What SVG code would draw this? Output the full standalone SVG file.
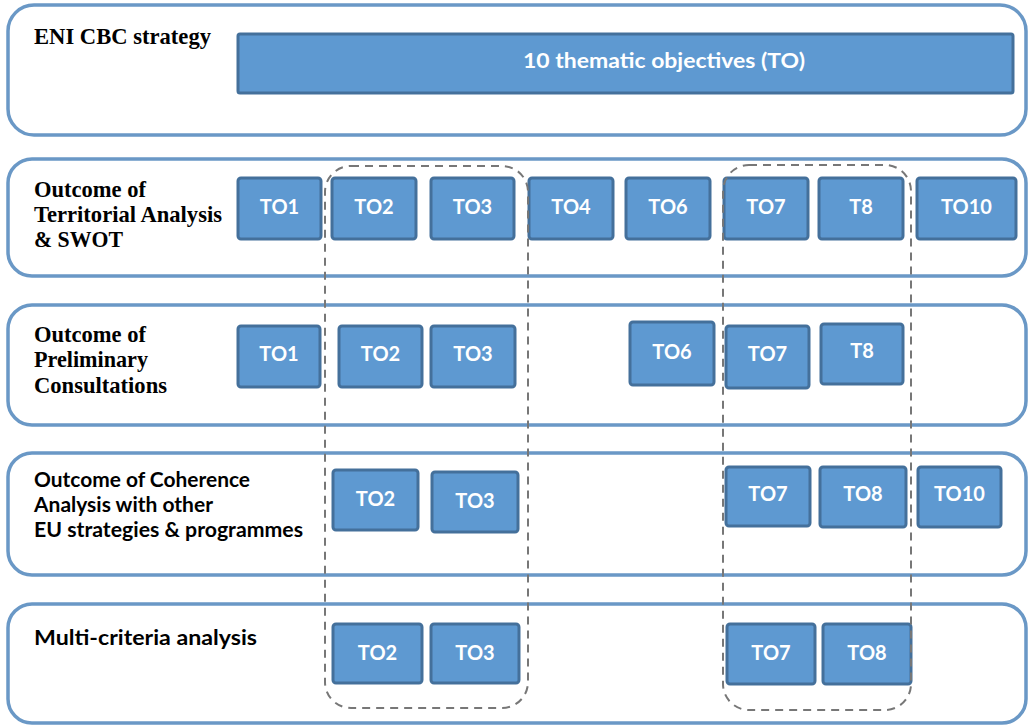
<svg xmlns="http://www.w3.org/2000/svg" width="1029" height="727" viewBox="0 0 1029 727">
<style>
.panel{fill:#fff;stroke:#6a98c6;stroke-width:3.5}
.to{fill:#5e99d1;stroke:#44709b;stroke-width:3}
.tt{fill:#fff;font-family:Lato,"Open Sans",sans-serif;font-weight:bold;font-size:20px;text-anchor:middle}
.lbs{fill:#000;font-family:"Liberation Serif",serif;font-weight:bold;font-size:22.5px}
.lbc{fill:#000;font-family:Lato,"Liberation Sans",sans-serif;font-weight:bold;font-size:20.5px}
.grp{fill:none;stroke:#777;stroke-width:2;stroke-dasharray:8 6}
</style>
<rect width="1029" height="727" fill="#fff"/>
<g id="panel-strategy">
<rect class="panel" x="8" y="5" width="1018" height="130" rx="26"/>
<text class="lbs" x="34" y="44" textLength="177" lengthAdjust="spacingAndGlyphs">ENI CBC strategy</text>
<rect class="to" x="238" y="34" width="775" height="59" rx="2"/>
<text class="tt" x="664" y="68" font-size="22" textLength="282" lengthAdjust="spacingAndGlyphs">10 thematic objectives (TO)</text>
</g>
<g id="panel-territorial">
<rect class="panel" x="8" y="159" width="1018" height="117" rx="24"/>
<text class="lbs" x="34" y="197" textLength="112" lengthAdjust="spacingAndGlyphs">Outcome of</text>
<text class="lbs" x="34" y="222" textLength="188" lengthAdjust="spacingAndGlyphs">Territorial Analysis</text>
<text class="lbs" x="34" y="247" textLength="89" lengthAdjust="spacingAndGlyphs">&amp; SWOT</text>
<rect class="to" x="238" y="178" width="83" height="61" rx="3"/><text class="tt" x="279.5" y="214">TO1</text>
<rect class="to" x="332" y="178" width="84" height="61" rx="3"/><text class="tt" x="374" y="214">TO2</text>
<rect class="to" x="431" y="178" width="83" height="61" rx="3"/><text class="tt" x="472.5" y="214">TO3</text>
<rect class="to" x="529" y="178" width="84" height="61" rx="3"/><text class="tt" x="571" y="214">TO4</text>
<rect class="to" x="626" y="178" width="84" height="61" rx="3"/><text class="tt" x="668" y="214">TO6</text>
<rect class="to" x="724" y="178" width="84" height="61" rx="3"/><text class="tt" x="766" y="214">TO7</text>
<rect class="to" x="819" y="178" width="84" height="61" rx="3"/><text class="tt" x="861" y="214">T8</text>
<rect class="to" x="917" y="178" width="99" height="61" rx="3"/><text class="tt" x="966.5" y="214">TO10</text>
</g>
<g id="panel-preliminary">
<rect class="panel" x="8" y="305" width="1018" height="120" rx="24"/>
<text class="lbs" x="34" y="342" textLength="112" lengthAdjust="spacingAndGlyphs">Outcome of</text>
<text class="lbs" x="34" y="367" textLength="114" lengthAdjust="spacingAndGlyphs">Preliminary</text>
<text class="lbs" x="34" y="393" textLength="133" lengthAdjust="spacingAndGlyphs">Consultations</text>
<rect class="to" x="238" y="326" width="82" height="61" rx="3"/><text class="tt" x="279" y="361">TO1</text>
<rect class="to" x="339" y="326" width="83" height="61" rx="3"/><text class="tt" x="380.5" y="361">TO2</text>
<rect class="to" x="431" y="326" width="84" height="61" rx="3"/><text class="tt" x="473" y="361">TO3</text>
<rect class="to" x="630" y="322" width="84" height="63" rx="3"/><text class="tt" x="672" y="359">TO6</text>
<rect class="to" x="726" y="326" width="83" height="62" rx="3"/><text class="tt" x="767.5" y="361">TO7</text>
<rect class="to" x="821" y="324" width="82" height="60" rx="3"/><text class="tt" x="862" y="358">T8</text>
</g>
<g id="panel-coherence">
<rect class="panel" x="8" y="453" width="1018" height="122" rx="24"/>
<text class="lbc" x="34" y="487" textLength="216" lengthAdjust="spacingAndGlyphs">Outcome of Coherence</text>
<text class="lbc" x="34" y="512" textLength="179" lengthAdjust="spacingAndGlyphs">Analysis with other</text>
<text class="lbc" x="34" y="537" textLength="269" lengthAdjust="spacingAndGlyphs">EU strategies &amp; programmes</text>
<rect class="to" x="333" y="470" width="85" height="60" rx="3"/><text class="tt" x="375.5" y="506">TO2</text>
<rect class="to" x="432" y="472" width="86" height="60" rx="3"/><text class="tt" x="475" y="508">TO3</text>
<rect class="to" x="726" y="467" width="84" height="59" rx="3"/><text class="tt" x="768" y="501">TO7</text>
<rect class="to" x="820" y="467" width="86" height="60" rx="3"/><text class="tt" x="863" y="501">TO8</text>
<rect class="to" x="918" y="467" width="83" height="60" rx="3"/><text class="tt" x="959.5" y="501">TO10</text>
</g>
<g id="panel-multicriteria">
<rect class="panel" x="8" y="604" width="1018" height="119" rx="24"/>
<text class="lbc" x="34" y="645" textLength="223" lengthAdjust="spacingAndGlyphs">Multi-criteria analysis</text>
<rect class="to" x="333" y="624" width="89" height="59" rx="3"/><text class="tt" x="377.5" y="660">TO2</text>
<rect class="to" x="431" y="624" width="88" height="59" rx="3"/><text class="tt" x="475" y="660">TO3</text>
<rect class="to" x="727" y="624" width="88" height="60" rx="3"/><text class="tt" x="771" y="660">TO7</text>
<rect class="to" x="823" y="624" width="88" height="60" rx="3"/><text class="tt" x="867" y="660">TO8</text>
</g>
<g id="connectors">
<rect class="grp" x="325" y="166" width="203" height="542" rx="26"/>
<rect class="grp" x="723" y="165" width="188" height="545" rx="26"/>
</g>
</svg>
